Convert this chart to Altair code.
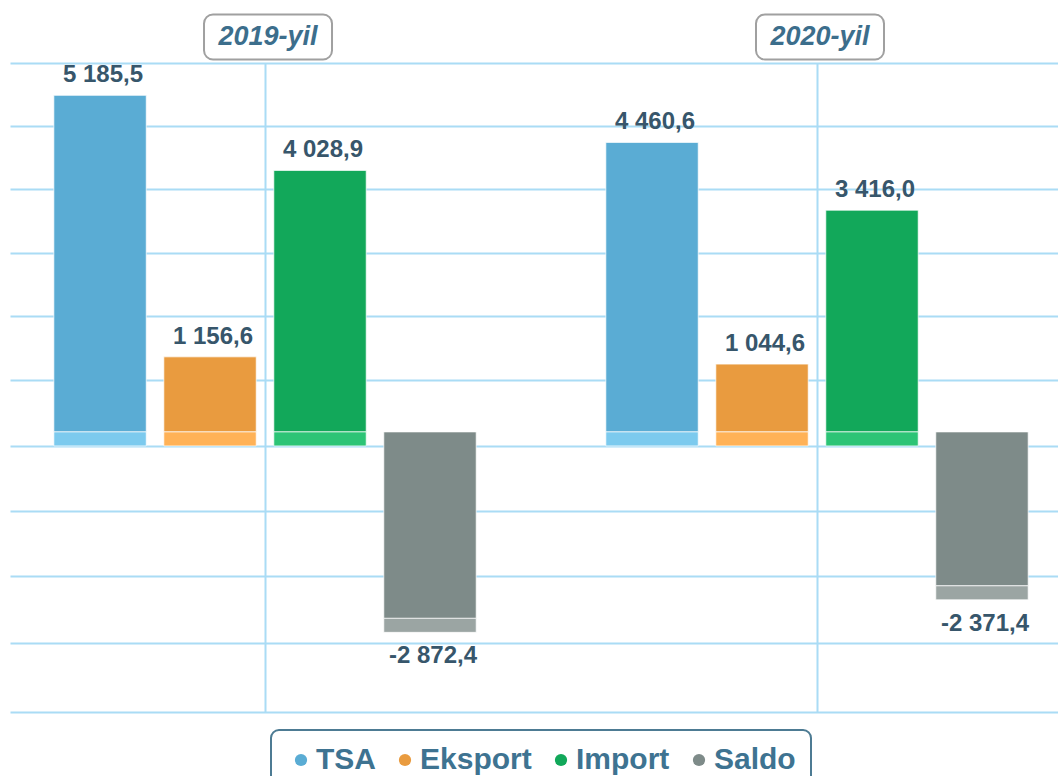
import altair as alt
import pandas as pd

years = ["2019-yil", "2020-yil"]
series = ["TSA", "Eksport", "Import", "Saldo"]
values_2019 = [5185.5, 1156.6, 4028.9, -2872.4]
values_2020 = [4460.6, 1044.6, 3416.0, -2371.4]
# horizontal guide lines (unlabelled, slightly uneven spacing)
grid_values = [5900, 4930, 3960, 2970, 2000, 1016, 0, -1000, -2000, -3040, -4100]

front_colors = ["#5aacd4", "#e99b3f", "#12a85a", "#7e8b89"]
face_colors = ["#7ccaee", "#ffb257", "#2cc476", "#9ba5a3"]
grid_color = "#aadcf5"
label_color = "#37566b"


def fmt(v):
    s = f"{v:,.1f}"
    return s.replace(",", " ").replace(".", ",")


rows = []
for yr, vals in zip(years, [values_2019, values_2020]):
    for s, v in zip(series, vals):
        rows.append({"year": yr, "series": s, "value": v, "base": min(0.0, v), "label": fmt(v)})
df = pd.DataFrame(rows)
years_df = pd.DataFrame({"year": years})

x_scale = alt.Scale(domain=years, paddingInner=0.203, paddingOuter=0.0508, align=0.625)
y_scale = alt.Scale(domain=[-4100, 5900], nice=False, zero=False)

x_enc = alt.X("year:N", scale=x_scale,
              axis=alt.Axis(orient="top", labels=False, ticks=False, domain=False, title=None,
                            grid=True, gridColor=grid_color, gridWidth=2, bandPosition=0.5))
xo_enc = alt.XOffset("series:N", scale=alt.Scale(domain=series, paddingInner=0.16, paddingOuter=0.08))
y_axis = alt.Axis(values=grid_values, labels=False, ticks=False, domain=False, title=None,
                  grid=True, gridColor=grid_color, gridWidth=2)

base = alt.Chart(df)

bars = base.mark_bar(yOffset=-14, y2Offset=-14, stroke="white", strokeWidth=1, strokeOpacity=0.7).encode(
    x=x_enc,
    xOffset=xo_enc,
    y=alt.Y("value:Q", scale=y_scale, axis=y_axis),
    y2=alt.datum(0),
    color=alt.Color("series:N", scale=alt.Scale(domain=series, range=front_colors),
                    legend=alt.Legend(title=None)),
)

faces = base.mark_bar(yOffset=0, y2Offset=-14, stroke="white", strokeWidth=1, strokeOpacity=0.7).encode(
    x=x_enc,
    xOffset=xo_enc,
    y=alt.Y("base:Q", scale=y_scale, axis=y_axis),
    y2=alt.Y2("base"),
    color=alt.Color("series:N", scale=alt.Scale(domain=series, range=face_colors), legend=None),
)

pos_labels = base.transform_filter("datum.value > 0").mark_text(
    baseline="alphabetic", dy=-27, dx=3, fontSize=24, fontWeight="bold", font="Liberation Sans", color=label_color
).encode(x=x_enc, xOffset=xo_enc, y=alt.Y("value:Q", scale=y_scale, axis=y_axis), text="label:N")

neg_labels = base.transform_filter("datum.value < 0").mark_text(
    baseline="top", dy=12, dx=3, fontSize=24, fontWeight="bold", font="Liberation Sans", color=label_color
).encode(x=x_enc, xOffset=xo_enc, y=alt.Y("value:Q", scale=y_scale, axis=y_axis), text="label:N")

box_path = ("M -0.86 -0.352 L 0.86 -0.352 A 0.14 0.14 0 0 1 1 -0.212 L 1 0.212 "
            "A 0.14 0.14 0 0 1 0.86 0.352 L -0.86 0.352 A 0.14 0.14 0 0 1 -1 0.212 "
            "L -1 -0.212 A 0.14 0.14 0 0 1 -0.86 -0.352 Z")

year_boxes = alt.Chart(years_df).mark_point(
    shape=box_path, size=128 * 128, filled=True, fill="white", stroke="#a0a0a0", strokeWidth=2, opacity=1,
    xOffset=3,
).encode(x=x_enc, y=alt.value(-26))

year_text = alt.Chart(years_df).mark_text(
    fontSize=27, fontWeight="bold", fontStyle="italic", font="Liberation Sans", color="#3c6e8c", baseline="middle",
    dx=3,
).encode(x=x_enc, y=alt.value(-26), text="year:N")

chart = alt.layer(bars, faces, pos_labels, neg_labels, year_boxes, year_text).resolve_scale(
    color="independent"
).properties(
    width=1048, height=649,
    autosize=alt.AutoSizeParams(type="none"),
    padding={"left": 10, "top": 63, "right": 0, "bottom": 64},
    background="white",
).configure_view(strokeWidth=0).configure_legend(
    orient="none", legendX=261, legendY=667, direction="horizontal",
    strokeColor="#4d7b93", strokeWidth=2, cornerRadius=8, padding=15, fillColor="white",
    labelFontSize=30, labelFontWeight="bold", labelColor="#3e7391", labelFont="Liberation Sans",
    symbolType="circle", symbolSize=150, symbolStrokeWidth=0, columnPadding=14, labelOffset=0,
)

chart.save("out.html", embed_options={"renderer": "svg", "actions": False})
